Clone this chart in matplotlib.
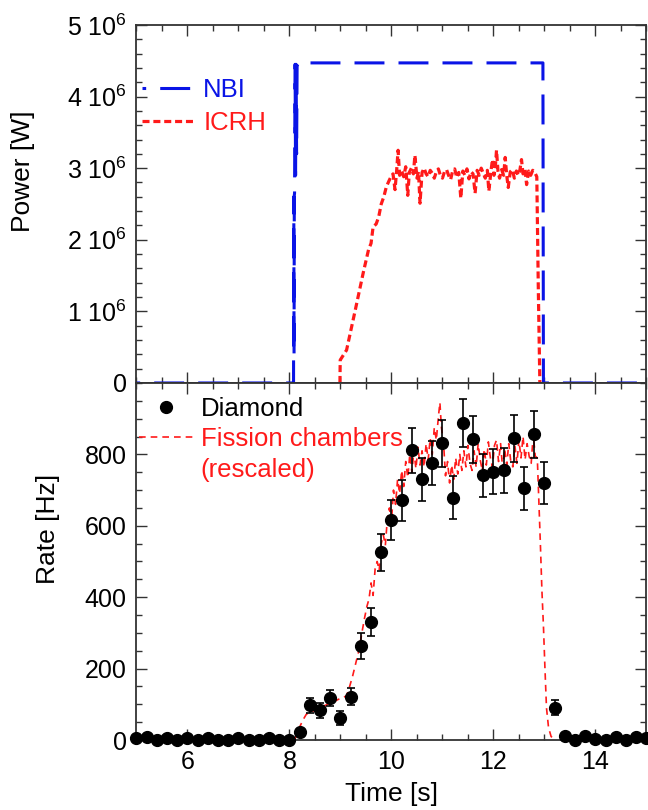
import matplotlib
matplotlib.use("Agg")
import matplotlib.pyplot as plt
from matplotlib.ticker import MultipleLocator, FuncFormatter
from matplotlib.lines import Line2D

plt.rcParams['font.family'] = ['Liberation Sans', 'DejaVu Sans']
plt.rcParams['mathtext.fontset'] = 'custom'
plt.rcParams['mathtext.rm'] = 'Liberation Sans'
plt.rcParams['mathtext.it'] = 'Liberation Sans:italic'

# --- heating power (top panel) ---
nbi_t = [5.0, 8.08, 8.085, 8.09, 8.095, 8.10, 8.11, 8.12, 8.13, 8.14, 8.15, 8.17, 8.19,
         12.97, 12.98, 15.0]
nbi_p = [0, 0, 2.6e6, 0.4e6, 2.62e6, 2.65e6, 4.45e6, 2.9e6, 4.45e6, 3.2e6, 4.42e6, 4.47e6, 4.47e6,
         4.47e6, 0, 0]

icrh_t = [8.99, 8.995, 9.12, 9.3, 9.45, 9.55, 9.6, 9.64, 9.7, 9.75, 9.8, 9.85, 9.9, 9.95, 9.99,
          10.03, 10.07, 10.10, 10.13, 10.16, 10.20, 10.24, 10.28, 10.32, 10.35, 10.39, 10.43, 10.46,
          10.50, 10.53, 10.56, 10.60, 10.64, 10.68, 10.72, 10.76, 10.80, 10.84, 10.88, 10.92, 10.96,
          11.00, 11.04, 11.08, 11.12, 11.16, 11.20, 11.24, 11.28, 11.32, 11.36, 11.40, 11.44, 11.48,
          11.52, 11.56, 11.60, 11.64, 11.68, 11.72, 11.76, 11.80, 11.84, 11.88, 11.91, 11.95, 11.98,
          12.01, 12.04, 12.06, 12.09, 12.12, 12.16, 12.20, 12.23, 12.26, 12.29, 12.33, 12.37, 12.41,
          12.45, 12.49, 12.52, 12.55, 12.58, 12.62, 12.65, 12.69, 12.73, 12.77, 12.81, 12.85, 12.88, 12.91]
icrh_p = [0, 0.32e6, 0.46e6, 1.05e6, 1.55e6, 1.86e6, 1.95e6, 2.18e6, 2.22e6, 2.32e6, 2.5e6, 2.6e6,
          2.74e6, 2.82e6, 2.88e6,
          2.92e6, 2.70e6, 2.95e6, 3.25e6, 2.90e6, 2.96e6, 2.88e6, 3.02e6, 2.62e6, 2.94e6, 3.00e6,
          2.92e6, 3.18e6, 2.86e6, 2.95e6, 2.51e6, 2.94e6, 3.00e6, 2.92e6, 2.88e6, 2.97e6, 2.93e6,
          2.86e6, 2.95e6, 2.99e6, 2.90e6, 2.86e6, 2.95e6, 2.98e6, 2.90e6, 2.84e6, 2.96e6, 2.99e6,
          2.87e6, 2.94e6, 2.58e6, 2.96e6, 2.90e6, 2.99e6, 2.85e6, 2.95e6, 2.92e6, 2.65e6, 2.97e6,
          2.90e6, 3.00e6, 2.93e6, 2.86e6, 2.97e6, 2.68e6, 2.95e6, 3.12e6, 2.90e6, 3.05e6, 3.25e6,
          2.95e6, 2.86e6, 2.98e6, 2.90e6, 3.15e6, 2.90e6, 2.73e6, 2.95e6, 2.98e6, 2.86e6, 2.96e6,
          2.90e6, 2.98e6, 3.12e6, 2.92e6, 2.98e6, 2.77e6, 2.96e6, 2.90e6, 2.97e6, 2.94e6, 2.88e6,
          1.3e6, 0]

# --- neutron rates (bottom panel) ---
fc_t = [8.10, 8.18, 8.26, 8.33, 8.40, 8.48, 8.56, 8.64, 8.72, 8.80, 8.88, 8.96, 9.04, 9.12, 9.18,
        9.24, 9.30, 9.36, 9.42, 9.47, 9.52, 9.56, 9.60, 9.64, 9.68, 9.72, 9.76, 9.80, 9.84, 9.88,
        9.92, 9.96, 10.00, 10.04, 10.08, 10.12, 10.16, 10.20, 10.24, 10.28, 10.32, 10.36, 10.40,
        10.44, 10.48, 10.52, 10.56, 10.60, 10.64, 10.68, 10.72, 10.76, 10.80, 10.84, 10.88, 10.92,
        10.95, 10.98, 11.02, 11.06, 11.10, 11.14, 11.18, 11.22, 11.26, 11.30, 11.34, 11.38, 11.42,
        11.46, 11.50, 11.54, 11.58, 11.62, 11.66, 11.70, 11.74, 11.78, 11.82, 11.86, 11.90, 11.94,
        11.98, 12.02, 12.06, 12.10, 12.14, 12.18, 12.22, 12.26, 12.30, 12.34, 12.38, 12.42, 12.46,
        12.50, 12.54, 12.58, 12.62, 12.66, 12.70, 12.74, 12.78, 12.82, 12.86, 12.89, 12.92, 12.95,
        12.98, 13.01, 13.04, 13.08, 13.13, 13.20]
fc_r = [0, 30, 55, 72, 78, 82, 90, 94, 98, 104, 108, 114, 118, 124, 150,
        180, 215, 250, 300, 340, 375, 395, 440, 405, 480, 500, 475, 550, 575, 545,
        620, 650, 610, 700, 660, 730, 690, 755, 710, 780, 735, 800, 750,
        810, 760, 820, 770, 810, 765, 830, 785, 845, 800, 875, 840, 905,
        945, 875, 835, 740, 780, 720, 770, 730, 790, 745, 800, 755, 810,
        765, 825, 775, 755, 810, 765, 830, 785, 755, 815, 770, 835, 790,
        765, 825, 840, 780, 830, 760, 815, 770, 830, 780, 765, 825, 775,
        840, 790, 850, 785, 830, 795, 775, 855, 795, 790, 670, 550, 420,
        320, 200, 90, 35, 10, 0]

dia_t = [5.0, 5.2, 5.4, 5.6, 5.8, 6.0, 6.2, 6.4, 6.6, 6.8, 7.0, 7.2, 7.4, 7.6, 7.8, 8.0,
         8.2, 8.4, 8.6, 8.8, 9.0, 9.2, 9.4, 9.6, 9.8, 10.0, 10.2, 10.4, 10.6, 10.8, 11.0,
         11.2, 11.4, 11.6, 11.8, 12.0, 12.2, 12.4, 12.6, 12.8, 13.0, 13.2, 13.4, 13.6, 13.8,
         14.0, 14.2, 14.4, 14.6, 14.8, 15.0]
dia_r = [7, 9, 0, 6, 0, 6, 0, 6, 0, 0, 6, 0, 0, 6, 0, 0,
         22, 98, 84, 118, 62, 121, 264, 331, 526, 615, 671, 811, 730, 776, 831,
         679, 887, 842, 741, 752, 755, 845, 705, 856, 720, 91, 12, 0, 12,
         4, 0, 9, 0, 9, 6]
dia_err = [0] * 16 + [10, 21, 21, 22, 20, 24, 37, 40, 52, 56, 57, 64, 61, 62, 65,
                      60, 67, 65, 61, 63, 62, 65, 60, 65, 60, 20, 0, 0, 0,
                      0, 0, 0, 0, 0, 0]

fig = plt.figure(figsize=(6.48, 8.10), dpi=100)
ax1 = fig.add_axes([0.2106, 0.5272, 0.787, 0.4420])
ax2 = fig.add_axes([0.2106, 0.0864, 0.787, 0.4408])

ax1.plot(nbi_t, nbi_p, color='#0a14e6', lw=2.2, ls=(8.6, (9.8, 4.6)), label='NBI')
ax1.plot(icrh_t, icrh_p, color='#ff1a1a', lw=2.3, ls=(0, (2.2, 1.2)), label='ICRH')

ax2.plot(fc_t, fc_r, color='#ff1a1a', lw=1.2, ls=(0, (4, 3)), zorder=2)
ax2.errorbar(dia_t, dia_r, yerr=dia_err, fmt='none', ecolor='black', elinewidth=1.2,
             capsize=3.2, capthick=1.2, zorder=3, clip_on=False)
ax2.plot(dia_t, dia_r, 'o', color='black', ms=8.5, zorder=4, clip_on=False)

for ax in (ax1, ax2):
    ax.set_xlim(5, 15)
    ax.xaxis.set_major_locator(MultipleLocator(2))
    ax.xaxis.set_minor_locator(MultipleLocator(0.5))
    ax.tick_params(which='both', direction='in', top=True, right=True,
                   color='#333333', width=1.0, labelsize=18, pad=7)
    ax.tick_params(which='major', length=8)
    ax.tick_params(which='minor', length=4.5)
    for s in ax.spines.values():
        s.set_color('#333333')
        s.set_linewidth(1.3)

ax1.set_ylim(0, 5e6)
ax1.yaxis.set_major_locator(MultipleLocator(1e6))
ax1.yaxis.set_minor_locator(MultipleLocator(2e5))
ax1.yaxis.set_major_formatter(FuncFormatter(
    lambda v, p: '0' if v == 0 else '%d 10$^{6}$' % round(v / 1e6)))
ax1.tick_params(axis='x', labelbottom=False)
ax1.set_ylabel('Power [W]', fontsize=19)
ax1.yaxis.set_label_coords(-0.198, 0.59)

ax2.set_ylim(0, 1000)
ax2.set_yticks([0, 200, 400, 600, 800])
ax2.yaxis.set_minor_locator(MultipleLocator(50))
ax2.set_ylabel('Rate [Hz]', fontsize=19)
ax2.yaxis.set_label_coords(-0.15, 0.59)
ax2.set_xlabel('Time [s]', fontsize=19, labelpad=6)

leg1 = ax1.legend(loc='upper left', bbox_to_anchor=(-0.01, 0.88), frameon=False,
                  fontsize=18.5, handlelength=2.1, handletextpad=0.3,
                  labelspacing=0.35, borderaxespad=0)
for txt, col in zip(leg1.get_texts(), ['#0a14e6', '#ff1a1a']):
    txt.set_color(col)

h_dia = Line2D([], [], marker='o', color='black', ls='none', ms=8.5)
h_fc = Line2D([], [], color='#ff1a1a', lw=1.2, ls=(0, (4, 3)))
h_blank = Line2D([], [], color='none')
leg2 = ax2.legend([h_dia, h_fc, h_blank], ['Diamond', 'Fission chambers', '(rescaled)'],
                  loc='upper left', bbox_to_anchor=(-0.015, 0.99), frameon=False,
                  fontsize=18.5, handlelength=2.1, handletextpad=0.3,
                  labelspacing=0.25, borderaxespad=0)
for txt, col in zip(leg2.get_texts(), ['black', '#ff1a1a', '#ff1a1a']):
    txt.set_color(col)

fig.savefig('out.png', dpi=100)
